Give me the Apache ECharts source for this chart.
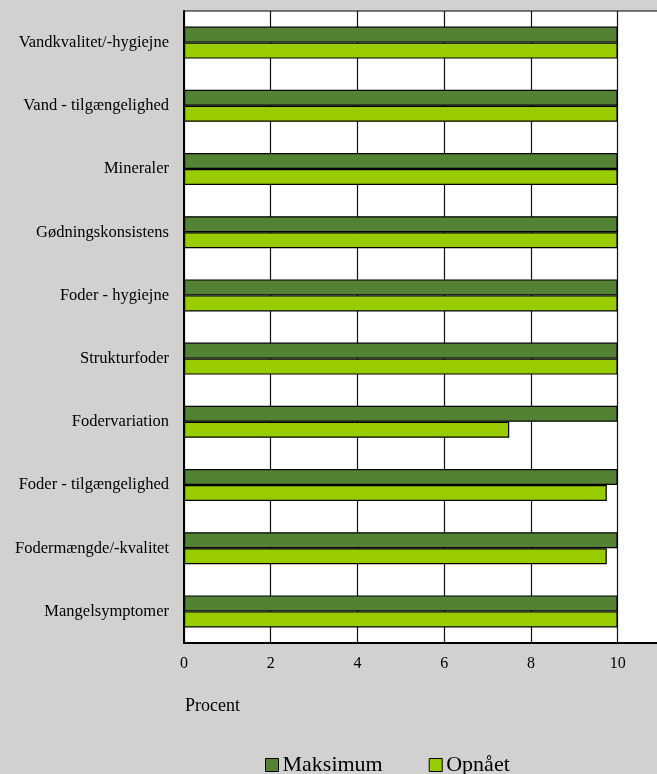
<!DOCTYPE html>
<html>
<head>
<meta charset="utf-8">
<script src="https://cdn.jsdelivr.net/npm/echarts@6/dist/echarts.min.js"></script>
<style>
html, body { margin: 0; padding: 0; background: #d3d0d0; }
#chart { width: 657px; height: 774px; }
</style>
</head>
<body>
<div id="chart"></div>
<script>
// kategorier, oppefra og ned
var categories = ['Vandkvalitet/-hygiejne', 'Vand - tilgængelighed', 'Mineraler', 'Gødningskonsistens',
	'Foder - hygiejne', 'Strukturfoder', 'Fodervariation', 'Foder - tilgængelighed',
	'Fodermængde/-kvalitet', 'Mangelsymptomer'];
var maksimum = [10, 10, 10, 10, 10, 10, 10, 10, 10, 10];
var opnaaet = [10, 10, 10, 10, 10, 10, 7.5, 9.75, 9.75, 10];
var xTicks = [0, 2, 4, 6, 8, 10];

var font = '"Liberation Serif", "Times New Roman", serif';
var mychart = echarts.init(document.getElementById('chart'));

var option = {
	backgroundColor: '#d3d0d0',
	animation: false,
	title: {
		text: 'Procent',
		left: 180,
		top: 692,
		textStyle: { fontFamily: font, fontSize: 18, fontWeight: 'normal', color: '#000' }
	},
	legend: {
		data: ['Maksimum', 'Opnået'],
		left: 260,
		top: 749,
		itemWidth: 13,
		itemHeight: 13,
		itemGap: 46,
		icon: 'rect',
		textStyle: { fontFamily: font, fontSize: 22, color: '#000', padding: [0, 0, 0, -1] },
		itemStyle: { borderColor: '#000', borderWidth: 1 }
	},
	grid: {
		left: 184,
		top: 11,
		width: 477,
		bottom: 131,
		outerBoundsMode: 'none',
		containLabel: false,
		show: true,
		backgroundColor: '#fff',
		borderColor: '#000',
		borderWidth: 1
	},
	xAxis: {
		type: 'value',
		min: 0,
		max: 11,
		interval: 2,
		axisLine: { show: true, lineStyle: { color: '#000', width: 2 } },
		axisTick: { show: false },
		axisLabel: {
			margin: 13,
			fontFamily: font,
			fontSize: 16,
			color: '#000',
			formatter: function(v) { return xTicks.indexOf(v) >= 0 ? v : ''; }
		},
		splitLine: { show: true, lineStyle: { color: '#111', width: 1.2 } }
	},
	yAxis: {
		type: 'category',
		inverse: true,
		data: categories,
		axisLine: { show: true, lineStyle: { color: '#000', width: 2 } },
		axisTick: { show: false },
		axisLabel: { margin: 15, fontFamily: font, fontSize: 16.5, color: '#000' }
	},
	series: [
		{
			name: 'Maksimum',
			type: 'bar',
			data: maksimum,
			barWidth: 16,
			barGap: '0%',
			itemStyle: { color: '#548235', borderColor: '#000', borderWidth: 1.2 }
		},
		{
			name: 'Opnået',
			type: 'bar',
			data: opnaaet,
			barWidth: 16,
			barGap: '0%',
			itemStyle: { color: '#99cc00', borderColor: '#000', borderWidth: 1.2 }
		}
	]
};
mychart.setOption(option);
</script>
</body>
</html>
